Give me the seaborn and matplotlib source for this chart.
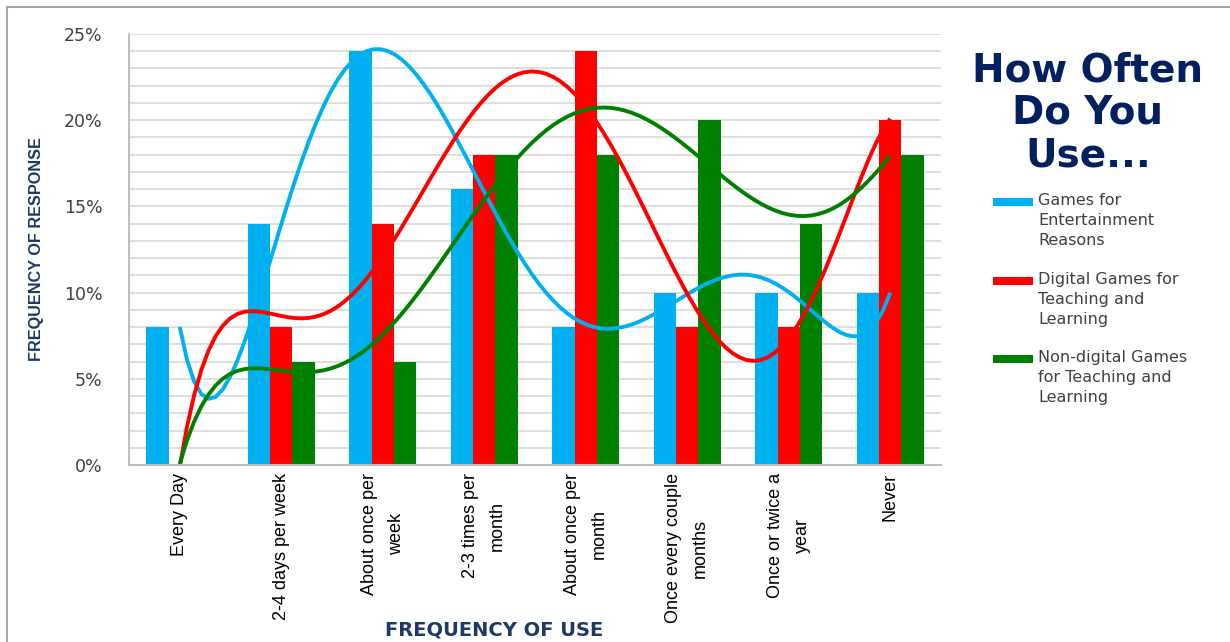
import numpy as np
import pandas as pd
import matplotlib
matplotlib.use("Agg")
import matplotlib.pyplot as plt
from matplotlib.lines import Line2D
from matplotlib.patches import Rectangle
import seaborn as sns

# Survey answers: share of respondents (%) per frequency category
categories = [
    "Every Day",
    "2-4 days per week",
    "About once per\nweek",
    "2-3 times per\nmonth",
    "About once per\nmonth",
    "Once every couple\nmonths",
    "Once or twice a\nyear",
    "Never",
]
series_names = [
    "Games for\nEntertainment\nReasons",
    "Digital Games for\nTeaching and\nLearning",
    "Non-digital Games\nfor Teaching and\nLearning",
]
entertainment = [8, 14, 24, 16, 8, 10, 10, 10]
digital = [0, 8, 14, 18, 24, 8, 8, 20]
non_digital = [0, 6, 6, 18, 18, 20, 14, 18]
colors = ["#00B0F0", "#FF0000", "#008000"]
y_ticks = [0, 5, 10, 15, 20, 25]

navy = "#002060"
axis_navy = "#1F3864"
text_grey = "#404040"

sns.set_style("white")

values_by_series = [entertainment, digital, non_digital]
positions = np.arange(len(categories))
df = pd.DataFrame({
    "pos": np.tile(positions, len(series_names)),
    "series": np.repeat(series_names, len(categories)),
    "value": np.concatenate(values_by_series),
})

fig = plt.figure(figsize=(12.3, 6.42), dpi=100)
W, H = 1230, 642
ax = fig.add_axes([129 / W, 1 - 465 / H, (941 - 129) / W, (465 - 34) / H])

sns.barplot(data=df, x="pos", y="value", hue="series", hue_order=series_names,
            palette=colors, native_scale=True, width=0.66, dodge=True,
            saturation=1, legend=False, ax=ax, linewidth=0)

# 6th-order polynomial trend line for every series
for name, vals, col in zip(series_names, values_by_series, colors):
    sns.regplot(x=positions.astype(float), y=np.array(vals, dtype=float),
                order=6, ci=None, scatter=False, truncate=True,
                line_kws={"color": col, "linewidth": 2.8, "solid_capstyle": "butt"},
                ax=ax)

ax.set_xlim(-0.5, len(categories) - 0.5)
ax.set_ylim(0, 25)
ax.set_yticks(y_ticks)
ax.set_yticklabels([f"{t}%" for t in y_ticks], fontsize=12.5,
                   color=text_grey, family="DejaVu Sans")
ax.set_yticks(np.arange(0, 26, 1), minor=True)
ax.set_xticks(positions)
ax.set_xticklabels(categories, rotation=90, fontsize=13, color="black",
                   family="Liberation Sans", ha="center", va="top",
                   multialignment="center", linespacing=1.75)
ax.tick_params(axis="both", which="both", length=0)
ax.tick_params(axis="y", pad=19)
ax.tick_params(axis="x", pad=6)
ax.set_xlabel("")
ax.set_ylabel("")
ax.grid(True, axis="y", which="both", color="#D9D9D9", linewidth=1.2)
ax.set_axisbelow(True)
for side in ["top", "right"]:
    ax.spines[side].set_visible(False)
for side in ["left", "bottom"]:
    ax.spines[side].set_color("#BFBFBF")
    ax.spines[side].set_linewidth(1.5)

# Axis titles
fig.text(37 / W, 1 - 249 / H, "FREQUENCY OF RESPONSE", rotation=90,
         ha="center", va="center", fontsize=11.7, fontweight="bold",
         color=axis_navy, family="Liberation Sans")
fig.text(494 / W, 1 - 630 / H, "FREQUENCY OF USE", ha="center", va="center",
         fontsize=14, fontweight="bold", color=axis_navy, family="DejaVu Sans")

# Chart title at the right
fig.text(1088 / W, 1 - 113 / H, "How Often\nDo You\nUse...", ha="center",
         va="center", multialignment="center", fontsize=28, fontweight="bold",
         color=navy, family="DejaVu Sans", linespacing=1.14)

# Legend block
legend_rows = [202, 281, 359]
for name, col, yc in zip(series_names, colors, legend_rows):
    fig.add_artist(Rectangle((993 / W, 1 - (yc + 4) / H), 40 / W, 8 / H,
                             facecolor=col, edgecolor="none",
                             transform=fig.transFigure))
    fig.text(1038 / W, 1 - (yc - 9) / H, name, ha="left", va="top",
             fontsize=11.5, color=text_grey, family="DejaVu Sans",
             linespacing=1.4)

# Chart-area frame
fig.add_artist(Line2D([6.5 / W, 1], [1 - 7 / H, 1 - 7 / H], color="#A6A6A6",
                      linewidth=1.5, transform=fig.transFigure))
fig.add_artist(Line2D([6.5 / W, 6.5 / W], [0, 1 - 7 / H], color="#A6A6A6",
                      linewidth=1.5, transform=fig.transFigure))

fig.savefig("out.png", dpi=100, facecolor="white")
